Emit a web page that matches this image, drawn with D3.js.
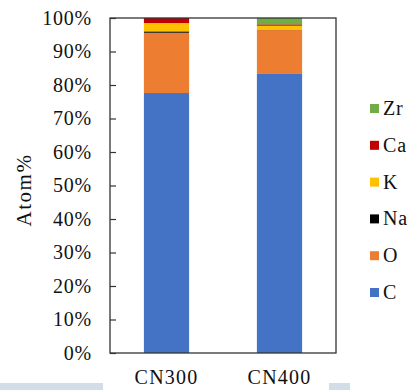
<!DOCTYPE html>
<html><head><meta charset="utf-8">
<script src="https://cdn.jsdelivr.net/npm/d3@7"></script>
<style>body{margin:0;background:#fff}svg{display:block}</style>
</head><body>
<svg id="c" width="409" height="390"></svg>
<script>
const categories = ["CN300", "CN400"];
const elements = ["C", "O", "Na", "K", "Ca", "Zr"];
const C  = [77.6, 83.3];
const O  = [18.0, 13.1];
const Na = [0.4, 0.1];
const K  = [2.5, 1.2];
const Ca = [1.5, 0.4];
const Zr = [0.0, 1.9];
const yTicks = [0,10,20,30,40,50,60,70,80,90,100];
const colors = {C:"#4472c4", O:"#ed7d31", Na:"#000000", K:"#ffc000", Ca:"#c00000", Zr:"#70ad47"};

const seriesVals = {C, O, Na, K, Ca, Zr};
const rows = categories.map((c,i)=>{const r={cat:c}; elements.forEach(e=>r[e]=seriesVals[e][i]); return r;});

const svg = d3.select("#c");
const m = {l:110, r:336, t:18, b:353};
const x = d3.scaleBand().domain(categories).range([m.l, m.r]).paddingInner(0.6).paddingOuter(0.3);
const y = d3.scaleLinear().domain([0,100]).range([m.b, m.t]);

// background bands at bottom
svg.append("rect").attr("x",0).attr("y",383).attr("width",103).attr("height",7).attr("fill","#d3dde8");
svg.append("rect").attr("x",329).attr("y",383).attr("width",21).attr("height",7).attr("fill","#d3dde8");

const stack = d3.stack().keys(elements)(rows);
svg.append("g").selectAll("g").data(stack).join("g")
  .attr("fill", d=>colors[d.key])
  .selectAll("rect").data(d=>d).join("rect")
  .attr("x", d=>x(d.data.cat)).attr("width", x.bandwidth())
  .attr("y", d=>y(d[1])).attr("height", d=>Math.max(0, y(d[0])-y(d[1])));

// frame
svg.append("rect").attr("x",m.l).attr("y",m.t).attr("width",m.r-m.l).attr("height",m.b-m.t)
  .attr("fill","none").attr("stroke","#333").attr("stroke-width",1.3);

// y axis
const yAxis = d3.axisLeft(y).tickValues(yTicks).tickSize(-6).tickPadding(18).tickFormat(d=>d+"%");
const ga = svg.append("g").attr("transform",`translate(${m.l},0)`).call(yAxis);
ga.select(".domain").remove();
ga.selectAll(".tick line").attr("stroke","#333").attr("stroke-width",1.2);
ga.selectAll(".tick text").attr("font-family","Liberation Serif").attr("font-size",20)
  .attr("letter-spacing","0.8px").attr("fill","#111");

// x labels
const xa = d3.axisBottom(x).tickSize(0).tickPadding(17);
const gx = svg.append("g").attr("transform",`translate(0,${m.b})`).call(xa);
gx.select(".domain").remove();
gx.selectAll(".tick text").attr("font-family","Liberation Serif").attr("font-size",20)
  .attr("letter-spacing","1.2px").attr("fill","#111");

// y label
svg.append("text").attr("transform","translate(31,190) rotate(-90)").attr("text-anchor","middle")
  .attr("font-family","Liberation Serif").attr("font-size",21).attr("letter-spacing","1.5px")
  .attr("fill","#111").text("Atom%");

// legend
const legendOrder = ["Zr","Ca","K","Na","O","C"];
const ly = d3.scalePoint().domain(legendOrder).range([108, 292]);
const lg = svg.append("g").selectAll("g").data(legendOrder).join("g")
  .attr("transform", d=>`translate(370,${ly(d)})`);
lg.append("rect").attr("x",0).attr("y",-4).attr("width",9).attr("height",9).attr("fill",d=>colors[d]);
lg.append("text").attr("x",13).attr("y",7).attr("font-family","Liberation Serif").attr("font-size",20)
  .attr("letter-spacing","0.8px").attr("fill","#111").text(d=>d);
</script>
</body></html>
